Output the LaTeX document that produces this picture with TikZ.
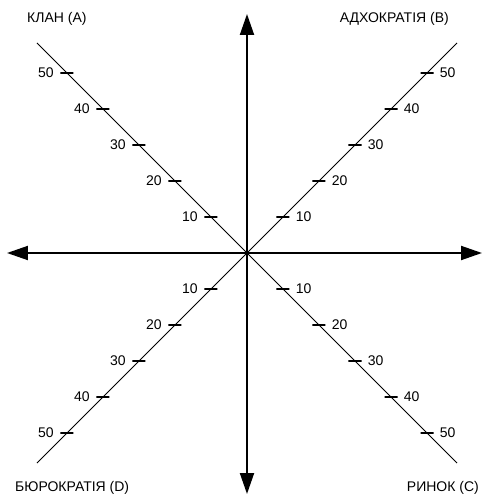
\documentclass[tikz,border=0pt]{standalone}
\usepackage{fontspec}
\setmainfont{Liberation Sans}
\usetikzlibrary{arrows.meta}

\begin{document}
\begin{tikzpicture}[
  x=1pt, y=1pt,
  font=\fontsize{14}{16}\selectfont,
  axis/.style={line width=2pt, {Triangle[length=21pt, width=14pt]}-{Triangle[length=21pt, width=14pt]}},
  diag/.style={line width=1pt},
  tickmark/.style={draw, line width=1.3pt, inner sep=0pt, minimum width=13pt, minimum height=0pt},
  corner/.style={inner sep=0pt},
  ticklabel/.style={inner sep=0pt}
]
\useasboundingbox (-247,-248) rectangle (236,253);

% axes
\coordinate (top) at (0,239);
\coordinate (bottom) at (0,-241);
\coordinate (left) at (-240,0);
\coordinate (right) at (235,0);
\draw[axis] (bottom) -- (top);
\draw[axis] (left) -- (right);

% diagonals
\coordinate (endA) at (-210,210);
\coordinate (endB) at (210,210);
\coordinate (endC) at (210,-210);
\coordinate (endD) at (-210,-210);
\draw[diag] (endA) -- (endC);
\draw[diag] (endD) -- (endB);

% scale marks
\foreach \k in {1,...,5} {
  \pgfmathtruncatemacro\n{10*\k}
  \node[tickmark, label={[ticklabel, label distance=6pt]left:\n}] (A\k) at (-36*\k, 36*\k) {};
  \node[tickmark, label={[ticklabel, label distance=5.5pt]right:\n}] (B\k) at (36*\k, 36*\k) {};
  \node[tickmark, label={[ticklabel, label distance=5.5pt]right:\n}] (C\k) at (36*\k, -36*\k) {};
  \node[tickmark, label={[ticklabel, label distance=6pt]left:\n}] (D\k) at (-36*\k, -36*\k) {};
}

% quadrant names
\node[corner, anchor=west] (clan) at (-220,234) {КЛАН (A)};
\node[corner, anchor=east] (adhoc) at (202,234) {АДХОКРАТІЯ (B)};
\node[corner, anchor=east] (market) at (232,-235) {РИНОК (C)};
\node[corner, anchor=west] (bureau) at (-232,-235) {БЮРОКРАТІЯ (D)};

\end{tikzpicture}
\end{document}
